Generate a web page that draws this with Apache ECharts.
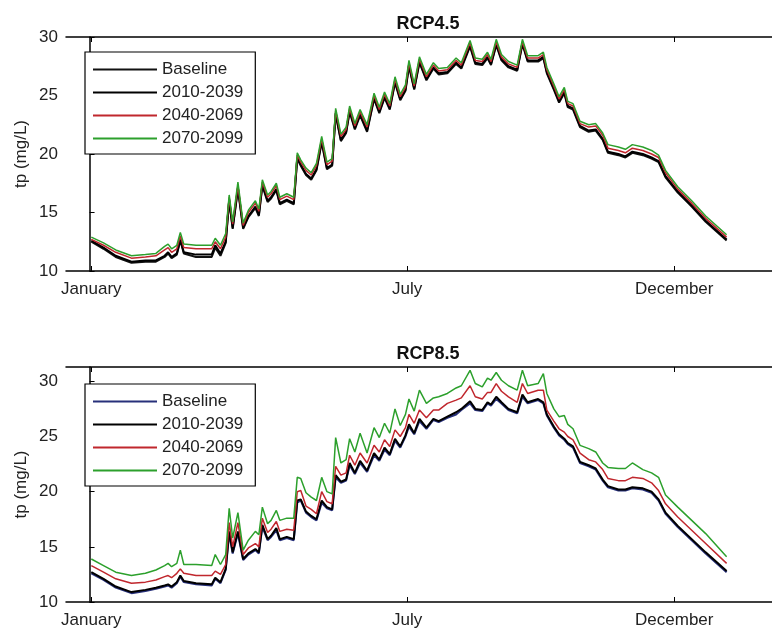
<!DOCTYPE html>
<html>
<head>
<meta charset="utf-8">
<script src="https://cdn.jsdelivr.net/npm/echarts@6.0.0/dist/echarts.min.js"></script>
<style>
  html, body { margin: 0; padding: 0; background: #fff; }
  #chart { width: 772px; height: 634px; }
</style>
</head>
<body>
<div id="chart"></div>
<script>
// day of year for each sample
var days = [
  1, 8, 15, 24, 32, 38, 43, 45, 47, 50,
  52, 54, 61, 70, 72, 75, 78, 80, 82, 85,
  88, 91, 95, 97, 99, 102, 104, 107, 109, 113,
  117, 119, 121, 124, 127, 130, 133, 136, 139, 141,
  144, 147, 149, 152, 155, 159, 163, 166, 169, 172,
  175, 178, 181, 183, 186, 189, 193, 197, 200, 205,
  210, 213, 218, 221, 225, 228, 230, 233, 236, 240,
  245, 248, 251, 257, 260, 262, 266, 269, 272, 274,
  277, 281, 286, 290, 294, 297, 303, 307, 311, 317,
  322, 326, 330, 337, 345, 353, 365
];
var tickDays = [1, 182, 335];
var tickNames = ['January', 'July', 'December'];
var seriesNames = ['Baseline', '2010-2039', '2040-2069', '2070-2099'];

// RCP4.5
var rcp45Base = [
  12.5, 11.9, 11.2, 10.7, 10.8, 10.8, 11.2, 11.5, 11.1, 11.4,
  12.6, 11.5, 11.2, 11.2, 12.0, 11.3, 12.4, 16.0, 13.6, 17.0,
  13.6, 14.6, 15.4, 14.7, 17.3, 15.9, 16.2, 16.9, 15.7, 16.0,
  15.7, 19.6, 19.0, 18.2, 17.8, 18.6, 21.0, 18.7, 19.0, 23.4,
  21.1, 21.8, 23.6, 22.1, 23.3, 21.9, 24.7, 23.5, 24.8, 23.8,
  26.1, 24.6, 25.4, 27.5, 25.5, 27.8, 26.3, 27.3, 26.8, 26.9,
  27.7, 27.3, 29.2, 27.7, 27.6, 28.2, 27.6, 29.3, 28.0, 27.4,
  27.1, 29.4, 27.9, 27.9, 28.2, 26.9, 25.5, 24.4, 25.2, 24.0,
  23.8, 22.3, 21.9, 22.0, 21.2, 20.1, 19.9, 19.7, 20.1, 19.9,
  19.6, 19.3, 18.0, 16.7, 15.5, 14.2, 12.6
];
var rcp45P1 = [
  12.6, 12.0, 11.3, 10.8, 10.9, 10.9, 11.3, 11.6, 11.2, 11.5,
  12.7, 11.6, 11.4, 11.4, 12.2, 11.5, 12.5, 16.1, 13.7, 17.1,
  13.7, 14.7, 15.5, 14.8, 17.4, 16.0, 16.3, 17.0, 15.8, 16.1,
  15.8, 19.7, 19.1, 18.3, 17.9, 18.7, 21.1, 18.8, 19.1, 23.5,
  21.2, 21.9, 23.7, 22.2, 23.4, 22.0, 24.8, 23.6, 24.9, 23.9,
  26.2, 24.7, 25.5, 27.6, 25.6, 27.9, 26.4, 27.4, 26.9, 27.0,
  27.8, 27.4, 29.3, 27.8, 27.7, 28.3, 27.7, 29.4, 28.1, 27.5,
  27.2, 29.5, 28.0, 28.0, 28.3, 27.0, 25.6, 24.5, 25.3, 24.1,
  23.9, 22.4, 22.0, 22.1, 21.3, 20.2, 20.0, 19.8, 20.2, 20.0,
  19.7, 19.4, 18.1, 16.8, 15.6, 14.3, 12.7
];
var rcp45P2 = [
  12.7, 12.2, 11.6, 11.1, 11.2, 11.3, 11.8, 12.0, 11.6, 11.9,
  13.0, 12.0, 11.9, 11.9, 12.5, 11.9, 12.9, 16.3, 14.0, 17.3,
  13.9, 15.0, 15.8, 15.1, 17.6, 16.3, 16.6, 17.3, 16.1, 16.4,
  16.1, 19.9, 19.3, 18.6, 18.2, 19.0, 21.3, 19.1, 19.4, 23.7,
  21.5, 22.1, 23.9, 22.4, 23.6, 22.3, 25.0, 23.8, 25.1, 24.1,
  26.4, 24.9, 25.7, 27.8, 25.8, 28.1, 26.6, 27.6, 27.1, 27.2,
  28.0, 27.6, 29.5, 28.0, 27.9, 28.5, 27.9, 29.6, 28.3, 27.7,
  27.4, 29.6, 28.2, 28.2, 28.5, 27.2, 25.8, 24.7, 25.5, 24.3,
  24.1, 22.6, 22.3, 22.4, 21.6, 20.5, 20.3, 20.1, 20.5, 20.3,
  20.0, 19.7, 18.4, 17.0, 15.8, 14.5, 12.9
];
var rcp45P3 = [
  12.9, 12.4, 11.8, 11.3, 11.4, 11.5, 12.1, 12.3, 11.9, 12.2,
  13.3, 12.3, 12.2, 12.2, 12.8, 12.2, 13.2, 16.5, 14.2, 17.6,
  14.1, 15.2, 16.0, 15.3, 17.8, 16.5, 16.8, 17.5, 16.3, 16.6,
  16.3, 20.1, 19.5, 18.8, 18.4, 19.2, 21.5, 19.3, 19.6, 23.9,
  21.7, 22.3, 24.1, 22.6, 23.8, 22.5, 25.2, 24.0, 25.3, 24.3,
  26.6, 25.1, 25.9, 28.0, 26.0, 28.3, 26.8, 27.8, 27.3, 27.4,
  28.2, 27.8, 29.7, 28.2, 28.1, 28.7, 28.1, 29.8, 28.5, 27.9,
  27.6, 29.8, 28.4, 28.4, 28.7, 27.4, 26.0, 24.9, 25.7, 24.5,
  24.3, 22.8, 22.5, 22.6, 21.8, 20.8, 20.6, 20.4, 20.8, 20.6,
  20.3, 19.9, 18.6, 17.2, 16.0, 14.7, 13.1
];

// RCP8.5
var rcp85Base = [
  12.6, 12.0, 11.3, 10.8, 11.0, 11.2, 11.4, 11.5, 11.3, 11.7,
  12.3, 11.8, 11.6, 11.5, 12.1, 11.7, 12.9, 16.2, 14.4, 16.2,
  13.8, 14.3, 14.7, 14.4, 16.8, 15.6, 15.9, 16.5, 15.6, 15.8,
  15.6, 19.0, 19.2, 18.1, 17.7, 17.4, 19.0, 18.5, 18.3, 21.3,
  20.8, 21.0, 22.4, 21.6, 22.6, 21.8, 23.3, 22.8, 23.8, 23.3,
  24.6, 24.0, 25.0, 25.9, 25.2, 26.4, 25.7, 26.5, 26.3, 26.7,
  27.0, 27.4, 28.0, 27.4, 27.3, 28.0, 27.8, 28.4, 28.0, 27.4,
  27.1, 28.6, 28.0, 28.3, 28.0, 26.9, 25.8, 25.1, 24.7, 24.3,
  24.0, 22.6, 22.3, 22.0, 21.0, 20.4, 20.1, 20.1, 20.3, 20.2,
  19.9, 19.2, 18.0, 16.8, 15.6, 14.4, 12.7
];
var rcp85P1 = [
  12.7, 12.1, 11.4, 10.9, 11.1, 11.3, 11.5, 11.6, 11.4, 11.8,
  12.4, 11.9, 11.7, 11.6, 12.2, 11.8, 13.0, 16.4, 14.5, 16.4,
  13.9, 14.4, 14.8, 14.5, 17.0, 15.7, 16.0, 16.7, 15.7, 15.9,
  15.7, 19.2, 19.3, 18.2, 17.8, 17.5, 19.2, 18.6, 18.4, 21.5,
  20.9, 21.1, 22.6, 21.7, 22.8, 21.9, 23.5, 22.9, 24.0, 23.4,
  24.8, 24.1, 25.1, 26.1, 25.3, 26.6, 25.8, 26.6, 26.4, 26.8,
  27.2, 27.5, 28.2, 27.5, 27.4, 28.1, 27.9, 28.6, 28.1, 27.5,
  27.2, 28.8, 28.1, 28.4, 28.1, 27.0, 25.9, 25.2, 24.8, 24.4,
  24.1, 22.7, 22.4, 22.1, 21.1, 20.5, 20.2, 20.2, 20.4, 20.3,
  20.0, 19.3, 18.1, 16.9, 15.7, 14.5, 12.8
];
var rcp85P2 = [
  13.3, 12.7, 12.1, 11.7, 11.8, 12.0, 12.3, 12.4, 12.2, 12.6,
  13.0, 12.6, 12.4, 12.4, 12.8, 12.5, 13.4, 17.2, 15.0, 17.2,
  14.3, 14.9, 15.3, 15.0, 17.6, 16.3, 16.6, 17.3, 16.4, 16.6,
  16.5, 20.0, 20.1, 18.7, 18.4, 18.0, 20.0, 19.1, 18.9, 22.3,
  21.5, 21.7, 23.3, 22.4, 23.5, 22.6, 24.2, 23.6, 24.7, 24.1,
  25.6, 25.0, 25.8, 27.0, 26.2, 27.4, 26.7, 27.4, 27.4, 28.0,
  28.3, 28.5, 29.6, 28.6, 28.4, 29.0, 29.0, 29.8, 29.1, 28.6,
  28.1, 29.8, 28.9, 29.2, 29.2, 27.4, 26.4, 25.7, 25.4, 25.0,
  24.7, 23.5, 22.9, 22.7, 22.0, 21.2, 21.0, 21.0, 21.3, 21.2,
  20.8, 20.1, 18.9, 17.7, 16.5, 15.3, 13.5
];
var rcp85P3 = [
  13.9, 13.3, 12.7, 12.4, 12.6, 12.9, 13.3, 13.5, 13.2, 13.5,
  14.7, 13.4, 13.4, 13.3, 14.3, 13.4, 14.3, 18.5, 15.8, 18.1,
  14.7, 15.6, 16.4, 16.1, 18.6, 17.1, 17.4, 18.3, 17.4, 17.6,
  17.6, 21.3, 21.2, 19.9, 19.5, 19.2, 21.3, 20.0, 19.8, 24.9,
  22.6, 22.9, 24.8, 23.6, 25.3, 23.5, 25.8, 24.9, 26.2, 25.3,
  27.5, 26.0, 27.0, 28.4, 27.3, 29.2, 28.0, 28.5, 28.6, 28.9,
  29.4, 29.6, 31.0, 29.8, 29.5, 30.3, 30.1, 30.8, 30.1, 29.6,
  29.2, 31.0, 29.6, 29.8, 30.7, 28.9, 27.5, 26.8, 26.9, 26.1,
  25.7, 24.2, 23.9, 23.6, 22.6, 22.2, 22.1, 22.1, 22.6, 22.0,
  21.7, 21.3, 19.7, 18.6, 17.4, 16.2, 14.1
];

var font = 'Liberation Sans, Arial, sans-serif';
var textColor = '#222';
var colors45 = ['#111111', '#000000', '#c0272d', '#2ca02c'];
var colors85 = ['#27307a', '#000000', '#c0272d', '#2ca02c'];
var widths = [2, 2, 1.5, 1.5];

function pairs(vals) {
  return days.map(function (d, i) { return [d, vals[i]]; });
}

function xAxes(gridIndex) {
  var base = {
    type: 'value',
    gridIndex: gridIndex,
    min: -13.5,
    max: 391,
    splitLine: { show: false },
    axisLine: { lineStyle: { color: '#000', width: 1.5 } }
  };
  var bottom = Object.assign({}, base, {
    position: 'bottom',
    axisTick: { inside: true, length: 5, customValues: tickDays, lineStyle: { color: '#000' } },
    axisLabel: {
      customValues: tickDays,
      margin: 10,
      fontSize: 17,
      fontFamily: font,
      color: textColor,
      formatter: function (v) { return tickNames[tickDays.indexOf(v)]; }
    }
  });
  var top = Object.assign({}, base, {
    position: 'top',
    axisTick: { inside: true, length: 5, customValues: tickDays, lineStyle: { color: '#000' } },
    axisLabel: { show: false }
  });
  return [bottom, top];
}

function yAxis(gridIndex, max) {
  return {
    type: 'value',
    gridIndex: gridIndex,
    min: 10,
    max: max,
    interval: 5,
    name: 'tp (mg/L)',
    nameLocation: 'middle',
    nameGap: 36,
    nameMoveOverlap: false,
    nameTextStyle: { fontSize: 17, fontFamily: font, color: textColor },
    splitLine: { show: false },
    axisLine: { show: true, lineStyle: { color: '#000', width: 1.5 } },
    axisTick: { show: true, inside: true, length: 5, lineStyle: { color: '#000' } },
    axisLabel: {
      margin: 8,
      fontSize: 17,
      fontFamily: font,
      color: textColor,
      showMaxLabel: max === 30,
      formatter: function (v) { return v % 5 === 0 ? v : ''; }
    }
  };
}

function legend(top, cols) {
  return {
    orient: 'vertical',
    left: 85,
    top: top,
    width: 170,
    padding: [9, 12, 7, 8],
    itemWidth: 64,
    itemHeight: 14,
    itemGap: 6,
    borderColor: '#000',
    borderWidth: 1.2,
    backgroundColor: '#fff',
    textStyle: { fontSize: 17, fontFamily: font, color: textColor },
    data: seriesNames.map(function (n, i) {
      return { name: n, icon: 'path://M0,0L64,0L64,2L0,2Z', itemStyle: { color: cols[i] } };
    })
  };
}

function lines(valsList, cols, axisBase, gridIdx) {
  return valsList.map(function (vals, i) {
    return {
      name: seriesNames[i],
      type: 'line',
      xAxisIndex: axisBase,
      yAxisIndex: gridIdx,
      data: pairs(vals),
      showSymbol: false,
      symbol: 'none',
      color: cols[i],
      lineStyle: { width: widths[i], color: cols[i] },
      emphasis: { disabled: true }
    };
  });
}

var myChart = echarts.init(document.getElementById('chart'));

var option = {
  animation: false,
  backgroundColor: '#fff',
  title: [
    { text: 'RCP4.5', left: 423, top: 10, textAlign: 'center',
      textStyle: { fontSize: 18, fontWeight: 'bold', fontFamily: font, color: '#111' } },
    { text: 'RCP8.5', left: 423, top: 340, textAlign: 'center',
      textStyle: { fontSize: 18, fontWeight: 'bold', fontFamily: font, color: '#111' } }
  ],
  legend: [legend(52, colors45), legend(384, colors85)],
  grid: [
    { left: 66, top: 37, width: 724, height: 234 },
    { left: 66, top: 367, width: 724, height: 235 }
  ],
  xAxis: xAxes(0).concat(xAxes(1)),
  yAxis: [yAxis(0, 30), yAxis(1, 31.3)],
  series: lines([rcp45Base, rcp45P1, rcp45P2, rcp45P3], colors45, 0, 0)
    .concat(lines([rcp85Base, rcp85P1, rcp85P2, rcp85P3], colors85, 2, 1))
};

myChart.setOption(option);
</script>
</body>
</html>
